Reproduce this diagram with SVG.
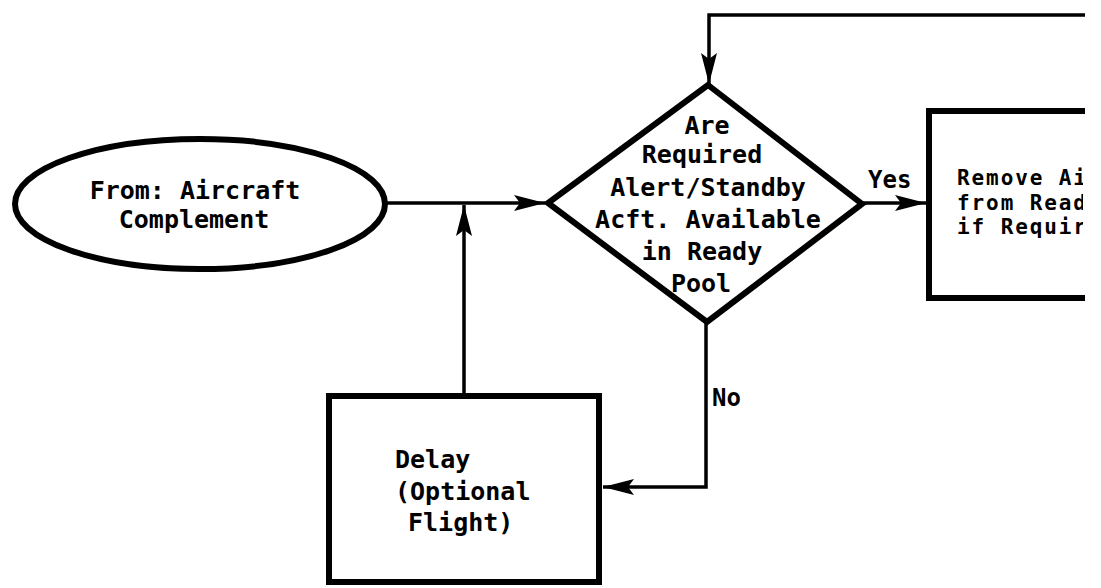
<svg xmlns="http://www.w3.org/2000/svg" width="1101" height="588" viewBox="0 0 1101 588">
  <style>
    .shape { fill: #fff; stroke: #000; stroke-width: 6; stroke-linejoin: miter; }
    .line { fill: none; stroke: #000; stroke-width: 3.5; }
    .t { font-family: "DejaVu Sans Mono", "Liberation Mono", monospace; font-weight: bold; font-size: 25px; fill: #000; }
    .s { font-size: 24px; }
    .r { font-size: 21px; letter-spacing: 1.9px; }
    .c { text-anchor: middle; }
  </style>
  <defs>
    <marker id="arr" markerUnits="userSpaceOnUse" markerWidth="32" markerHeight="18" refX="31" refY="8" orient="auto">
      <path d="M0,0 L31,8 L0,16 L6,8 z" fill="#000"/>
    </marker>
    <clipPath id="clipRight">
      <rect x="0" y="0" width="1083" height="588"/>
    </clipPath>
  </defs>
  <rect width="1101" height="588" fill="#fff"/>

  <g id="connectors">
    <path class="line" d="M385,203 L545,203" marker-end="url(#arr)"/>
    <path class="line" d="M464,393 L464,205" marker-end="url(#arr)"/>
    <path class="line" d="M1085,15 L709,15 L709,84" marker-end="url(#arr)"/>
    <path class="line" d="M862,203 L926,203" marker-end="url(#arr)"/>
    <path class="line" d="M706,322 L706,487 L603,487" marker-end="url(#arr)"/>
    <text class="t s" x="868" y="188">Yes</text>
    <text class="t s" x="712" y="406">No</text>
  </g>

  <g id="start">
    <ellipse class="shape" cx="200" cy="204" rx="185" ry="65" stroke-width="5"/>
    <text class="t c" x="195" y="199">From: Aircraft</text>
    <text class="t c" x="194" y="228">Complement</text>
  </g>

  <g id="decision">
    <polygon class="shape" points="708,85 862,204 707,322 548,203"/>
    <text class="t c" x="707" y="134">Are</text>
    <text class="t c" x="702" y="163">Required</text>
    <text class="t c" x="708" y="196">Alert/Standby</text>
    <text class="t c" x="708" y="228">Acft. Available</text>
    <text class="t c" x="702" y="260">in Ready</text>
    <text class="t c" x="701" y="292">Pool</text>
  </g>

  <g id="remove">
    <path class="shape" d="M1085,111 L929,111 L929,298 L1085,298" fill="none"/>
    <g clip-path="url(#clipRight)">
      <text class="t r" x="957" y="185">Remove Ai</text>
      <text class="t r" x="957" y="209.5">from Read</text>
      <text class="t r" x="957" y="234">if Requir</text>
    </g>
  </g>

  <g id="delay">
    <rect class="shape" x="329" y="396" width="270" height="186" stroke-width="7"/>
    <text class="t" x="395" y="468">Delay</text>
    <text class="t" x="395" y="500">(Optional</text>
    <text class="t" x="408" y="531">Flight)</text>
  </g>
</svg>
